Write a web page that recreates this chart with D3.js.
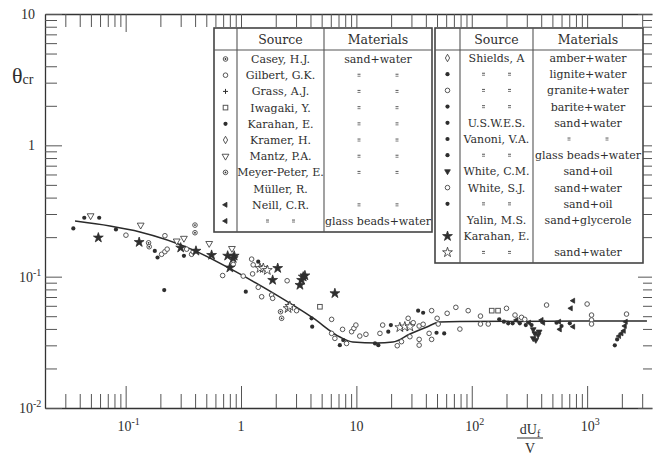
<!DOCTYPE html>
<html>
<head>
<meta charset="utf-8">
<script src="https://cdn.jsdelivr.net/npm/d3@7"></script>
<style>
  body { margin: 0; background: #fff; }
  svg { display: block; }
  text { fill: #2e2e2e; }
</style>
</head>
<body>
<div id="chart"></div>
<script>
// ---- data ----
// Shields curve: [dUf/v, theta_cr]
const curvePts = [[0.0364,0.265],[0.0731,0.243],[0.133,0.219],[0.383,0.160],[0.851,0.112],
  [1.89,0.0752],[4.2,0.0485],[7.2,0.0347],[9.3,0.0318],[15,0.0313],[20.7,0.0318],
  [29.1,0.0366],[40.8,0.0414],[53,0.0452],[79,0.0455],[3300,0.046]];

const filledDots = [[0.0352,0.233],[0.0438,0.281],[0.059,0.281],[0.0824,0.229],[0.179,0.157],
  [0.189,0.140],[0.32,0.144],[0.216,0.079],[1.10,0.0768],[1.41,0.130],[1.51,0.118],
  [4.09,0.0482],[4.14,0.0416],[7.19,0.0301],[7.69,0.0329],[14.5,0.031],[15.5,0.0301],
  [18.9,0.0381],[19.9,0.0428],[34.3,0.0551],[37.9,0.0531],[49.5,0.0374],[57.7,0.037],
  [173,0.0473],[190,0.0454],[207,0.0441],[226,0.0441],[261,0.0441],[294,0.0428],
  [330,0.0428],[543,0.0446],[600,0.0421],[708,0.0441],[1738,0.030],[1820,0.0333]];

const leftTris = [[244,0.0468],[314,0.0446],[403,0.0468],[416,0.0446],[572,0.0454],
  [580,0.0397],[757,0.0416],[757,0.0656],[722,0.0574],[2163,0.0454],[2122,0.0421],
  [2080,0.0387],[1986,0.037],[1893,0.0353]];

const oilTris = [[341,0.0397],[352,0.037],[341,0.0339],[359,0.0329],[376,0.036],[384,0.0381]];

const mantzTris = [[0.0497,0.291],[0.135,0.247],[0.277,0.187],[0.32,0.196],[0.53,0.179],[0.834,0.164]];

const stars = [[0.058,0.198],[0.131,0.183],[0.30,0.166],[0.407,0.157],[0.556,0.146],
  [0.766,0.144],[0.873,0.144],[0.80,0.117],[0.856,0.138],[2.08,0.116],[1.88,0.0942],
  [3.24,0.0863],[3.35,0.0942],[3.46,0.0998],[3.58,0.102],[6.51,0.0746]];

const openStars = [[1.46,0.116],[1.56,0.116],[1.69,0.112],[2.56,0.0574],[2.65,0.0597],
  [23.8,0.0411],[26.3,0.0416],[29.1,0.0416]];

const openCircles = [[0.1006,0.207],[0.219,0.205],[0.205,0.148],[0.219,0.155],[0.229,0.162],
  [0.338,0.162],[0.373,0.148],[0.385,0.155],[0.693,0.102],[0.856,0.124],[1.045,0.101],
  [1.236,0.136],[1.275,0.123],[1.26,0.105],[1.41,0.083],[1.51,0.0703],[1.84,0.0725],
  [1.88,0.0684],[2.51,0.0931],[3.03,0.0551],[6.10,0.0473],[6.10,0.037],[6.51,0.0339],
  [8.22,0.031],[7.59,0.0397],[9.09,0.0381],[9.51,0.0404],[9.9,0.0428],[10.7,0.0353],
  [12.1,0.0364],[16.0,0.037],[16.9,0.0428],[22.6,0.0298],[24.6,0.032],[28.1,0.0482],
  [31.1,0.0446],[29.1,0.0349],[35.0,0.0333],[35.0,0.0301],[35.0,0.0421],[37.9,0.0434],
  [44.9,0.0551],[42.7,0.037],[44.9,0.0333],[50.1,0.0482],[51.2,0.0436],[61.2,0.0526],
  [72.8,0.0584],[78.9,0.0399],[93.1,0.0551],[119,0.0501],[119,0.0436],[139,0.0436],
  [200,0.0574],[237,0.051],[270,0.049],[288,0.0473],[445,0.0608],[1000,0.0619],
  [1092,0.051],[1092,0.0468],[1092,0.0436],[2195,0.0519]];

const dotCircles = [[0.158,0.181],[0.16,0.169],[0.399,0.247],[0.399,0.216],[2.20,0.0541],[2.25,0.0482]];

const squares = [[4.83,0.059],[149,0.0551],[169,0.0551]];

// axis ticks
const xMajor = [0.1, 1, 10, 100, 1000];
const xLabels = [["10","-1"],["1",""],["10",""],["10","2"],["10","3"]];
const yMajor = [0.01, 0.1, 1, 10];
const yLabels = [["10","-2"],["10","-1"],["1",""],["10",""]];

// legend tables
const t1Symbols = ["circleDot","circle","plus","square","dot","diamond","triDown","circleDot","","triLeft","triLeft"];
const t1Sources = ["Casey, H.J.","Gilbert, G.K.","Grass, A.J.","Iwagaki, Y.","Karahan, E.","Kramer, H.",
  "Mantz, P.A.","Meyer-Peter, E.","Müller, R.","Neill, C.R.","ditto"];
const t1Materials = ["sand+water","ditto","ditto","ditto","ditto","ditto","ditto","ditto","","ditto","glass beads+water"];

const t2Symbols = ["diamond","dot","circle","dot","dot","dot","dot","triDownFill","circle","dot","","star","openStar"];
const t2Sources = ["Shields, A","ditto","ditto","ditto","U.S.W.E.S.","Vanoni, V.A.","ditto",
  "White, C.M.","White, S.J.","ditto","Yalin, M.S.","Karahan, E.","ditto"];
const t2Materials = ["amber+water","lignite+water","granite+water","barite+water","sand+water","ditto",
  "glass beads+water","sand+oil","sand+water","sand+oil","sand+glycerole","","sand+water"];

// ---- drawing ----
const W = 654, H = 457;
const ink = "#2e2e2e";
const serif = "'Liberation Serif', serif";
const tableFont = "'DejaVu Serif', serif";

const x = d3.scaleLog().domain([0.02, 3650]).range([45, 652]);
const y = d3.scaleLog().domain([0.01, 10]).range([408, 14]);

const svg = d3.select("#chart").append("svg").attr("width", W).attr("height", H);

// minor ticks 2..9 per decade
const minorX = [], minorY = [];
for (let e = -2; e <= 3; e++) for (let m = 2; m <= 9; m++) {
  const v = m * Math.pow(10, e);
  if (v > 0.021 && v < 3600) minorX.push(v);
}
for (let e = -2; e <= 0; e++) for (let m = 2; m <= 9; m++) minorY.push(m * Math.pow(10, e));

function styleAxis(g, keepDomain) {
  g.selectAll("line").attr("stroke", "#555").attr("stroke-width", 1);
  g.selectAll("text").remove();
  if (keepDomain) g.select(".domain").attr("stroke", "#333").attr("stroke-width", 1.3);
  else g.select(".domain").remove();
}

// bottom
svg.append("g").attr("transform", "translate(0,408)")
  .call(d3.axisBottom(x).tickValues(minorX).tickSizeInner(-14).tickSizeOuter(0))
  .call(g => styleAxis(g, true));
svg.append("g").attr("transform", "translate(0,408)")
  .call(d3.axisBottom(x).tickValues(xMajor).tickSizeInner(-22).tickSizeOuter(0))
  .call(g => styleAxis(g, false));
// top
svg.append("g").attr("transform", "translate(0,14)")
  .call(d3.axisTop(x).tickValues(minorX).tickSizeInner(-13).tickSizeOuter(0))
  .call(g => styleAxis(g, true));
svg.append("g").attr("transform", "translate(0,14)")
  .call(d3.axisTop(x).tickValues(xMajor).tickSizeInner(-18).tickSizeOuter(0))
  .call(g => styleAxis(g, false));
// left
svg.append("g").attr("transform", "translate(45,0)")
  .call(d3.axisLeft(y).tickValues(minorY).tickSizeInner(-12).tickSizeOuter(0))
  .call(g => styleAxis(g, true));
svg.append("g").attr("transform", "translate(45,0)")
  .call(d3.axisLeft(y).tickValues(yMajor).tickSizeInner(-17).tickSizeOuter(0))
  .call(g => styleAxis(g, false));
// right (ticks only)
svg.append("g").attr("transform", "translate(652,0)")
  .call(d3.axisRight(y).tickValues(minorY).tickSizeInner(-9).tickSizeOuter(0))
  .call(g => styleAxis(g, false));
svg.append("g").attr("transform", "translate(652,0)")
  .call(d3.axisRight(y).tickValues(yMajor).tickSizeInner(-14).tickSizeOuter(0))
  .call(g => styleAxis(g, false));

// tick labels
xMajor.forEach((v, i) => {
  const t = svg.append("text").attr("x", x(v) + (xLabels[i][1] ? 3 : 0)).attr("y", 431)
    .attr("text-anchor", "middle").attr("font-family", serif).attr("font-size", 14)
    .text(xLabels[i][0]);
  if (xLabels[i][1]) t.append("tspan").attr("dy", -6).attr("font-size", 10).text(xLabels[i][1]);
});
yMajor.forEach((v, i) => {
  const base = svg.append("text").attr("y", y(v) + 5).attr("font-family", serif).attr("font-size", 14);
  if (yLabels[i][1]) {
    base.attr("x", 19).text(yLabels[i][0])
      .append("tspan").attr("dy", -6).attr("font-size", 10).text(yLabels[i][1]);
  } else {
    base.attr("x", 35).attr("text-anchor", "end").text(yLabels[i][0]);
  }
});

// axis titles
const th = svg.append("text").attr("x", 12).attr("y", 83).attr("font-family", serif).attr("font-size", 22).text("θ");
th.append("tspan").attr("font-size", 14).attr("dy", 1).text("cr");
const xt = svg.append("text").attr("x", 530).attr("y", 434).attr("text-anchor", "middle")
  .attr("font-family", serif).attr("font-size", 14).text("dU");
xt.append("tspan").attr("font-size", 10).attr("dy", 3).text("f");
svg.append("line").attr("x1", 517).attr("x2", 543).attr("y1", 438).attr("y2", 438)
  .attr("stroke", ink).attr("stroke-width", 1);
svg.append("text").attr("x", 530).attr("y", 453).attr("text-anchor", "middle")
  .attr("font-family", serif).attr("font-size", 14).text("V");

// curve
svg.append("path").datum(curvePts)
  .attr("d", d3.line().x(d => x(d[0])).y(d => y(d[1])).curve(d3.curveMonotoneX))
  .attr("fill", "none").attr("stroke", "#2a2a2a").attr("stroke-width", 1.5);

// markers
function sym(g, type, px, py) {
  if (type === "dot") {
    g.append("circle").attr("cx", px).attr("cy", py).attr("r", 2.1).attr("fill", ink);
  } else if (type === "circle") {
    g.append("circle").attr("cx", px).attr("cy", py).attr("r", 2.3)
      .attr("fill", "#fff").attr("stroke", "#555").attr("stroke-width", 1);
  } else if (type === "circleDot") {
    g.append("circle").attr("cx", px).attr("cy", py).attr("r", 2.3)
      .attr("fill", "#fff").attr("stroke", "#555").attr("stroke-width", 1);
    g.append("circle").attr("cx", px).attr("cy", py).attr("r", 0.9).attr("fill", ink);
  } else if (type === "square") {
    g.append("rect").attr("x", px - 2.3).attr("y", py - 2.3).attr("width", 4.6).attr("height", 4.6)
      .attr("fill", "#fff").attr("stroke", "#555").attr("stroke-width", 1);
  } else if (type === "plus") {
    g.append("path").attr("d", `M${px-2.5},${py}H${px+2.5}M${px},${py-2.5}V${py+2.5}`)
      .attr("stroke", ink).attr("stroke-width", 1);
  } else {
    const shapes = {
      diamond: [d3.symbolDiamond, 16, 0, "#fff"],
      triDown: [d3.symbolTriangle, 20, 180, "#fff"],
      triDownFill: [d3.symbolTriangle, 14, 180, ink],
      triLeft: [d3.symbolTriangle, 11, -90, ink],
      star: [d3.symbolStar, 30, 0, ink],
      openStar: [d3.symbolStar, 30, 0, "#fff"]
    };
    const s = shapes[type];
    if (!s) return;
    g.append("path").attr("d", d3.symbol(s[0], s[1])())
      .attr("transform", `translate(${px},${py}) rotate(${s[2]})`)
      .attr("fill", s[3]).attr("stroke", ink).attr("stroke-width", 0.8);
  }
}

const series = [
  [openCircles, "circle"], [dotCircles, "circleDot"], [squares, "square"],
  [mantzTris, "triDown"], [oilTris, "triDownFill"], [leftTris, "triLeft"],
  [filledDots, "dot"], [openStars, "openStar"], [stars, "star"]
];
const pg = svg.append("g");
series.forEach(([pts, type]) => pts.forEach(d => sym(pg, type, x(d[0]), y(d[1]))));

// legend tables
function table(left, right, c1, c2, top, bottom, y0, step, syms, sources, mats) {
  const g = svg.append("g");
  g.append("rect").attr("x", left).attr("y", top).attr("width", right - left).attr("height", bottom - top)
    .attr("fill", "#fff").attr("stroke", "#444").attr("stroke-width", 1.6);
  [c1, c2].forEach(cx => g.append("line").attr("x1", cx).attr("x2", cx).attr("y1", top).attr("y2", bottom)
    .attr("stroke", "#555").attr("stroke-width", 1.1));
  g.append("line").attr("x1", left).attr("x2", right).attr("y1", 50).attr("y2", 50)
    .attr("stroke", "#555").attr("stroke-width", 1.1);
  const sc = (c1 + c2) / 2, mc = (c2 + right) / 2;
  g.append("text").attr("x", sc).attr("y", 44).attr("text-anchor", "middle")
    .attr("font-family", tableFont).attr("font-size", 12.5).text("Source");
  g.append("text").attr("x", mc).attr("y", 44).attr("text-anchor", "middle")
    .attr("font-family", tableFont).attr("font-size", 12.5).text("Materials");
  function cell(txt, cx, cy, off) {
    if (!txt) return;
    if (txt === "ditto") {
      // small ditto marks drawn as two short dashes
      [-off, off].forEach(o => {
        g.append("rect").attr("x", cx + o - 1.5).attr("y", cy - 1.5).attr("width", 3).attr("height", 1.1).attr("fill", "#666");
        g.append("rect").attr("x", cx + o - 1.5).attr("y", cy + 0.5).attr("width", 3).attr("height", 1.1).attr("fill", "#888");
      });
    } else {
      g.append("text").attr("x", cx).attr("y", cy + 4).attr("text-anchor", "middle")
        .attr("font-family", tableFont).attr("font-size", 11).text(txt);
    }
  }
  sources.forEach((s, i) => {
    const cy = y0 + i * step;
    sym(g, syms[i], (left + c1) / 2, cy);
    cell(s, sc, cy, 13);
    cell(mats[i], mc, cy, 19);
  });
}
table(214, 432, 237, 324, 28, 232, 59, 16.2, t1Symbols, t1Sources, t1Materials);
table(435, 643, 460, 533, 28, 263, 58, 16.2, t2Symbols, t2Sources, t2Materials);
</script>
</body>
</html>
